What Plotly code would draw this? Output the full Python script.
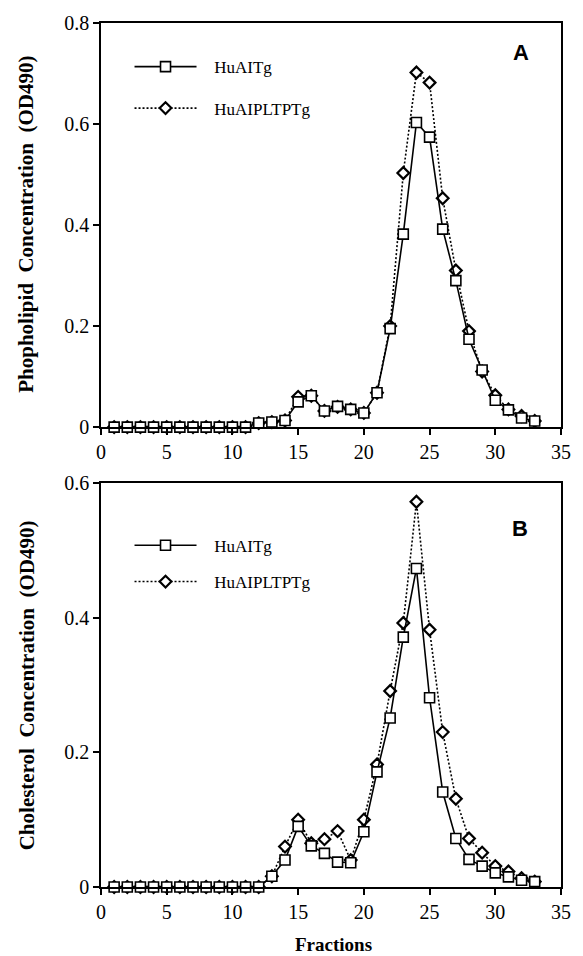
import plotly.graph_objects as go

# ---------------- data ----------------
fractions = list(range(1, 34))

# Panel A: phospholipid (OD490)
pl_huaitg = [0, 0, 0, 0, 0, 0, 0, 0, 0, 0, 0,
             0.008, 0.010, 0.013, 0.050, 0.062, 0.032, 0.041, 0.035, 0.028, 0.068,
             0.195, 0.382, 0.603, 0.574, 0.392, 0.290, 0.174, 0.113, 0.053, 0.034,
             0.018, 0.012]
pl_huaipltptg = [0, 0, 0, 0, 0, 0, 0, 0, 0, 0, 0,
                 0.008, 0.010, 0.013, 0.060, 0.062, 0.032, 0.040, 0.035, 0.028, 0.068,
                 0.200, 0.503, 0.702, 0.682, 0.453, 0.310, 0.190, 0.110, 0.063, 0.035,
                 0.022, 0.012]

# Panel B: cholesterol (OD490)
ch_huaitg = [0, 0, 0, 0, 0, 0, 0, 0, 0, 0, 0, 0,
             0.016, 0.040, 0.090, 0.061, 0.050, 0.037, 0.036, 0.082, 0.171,
             0.251, 0.371, 0.473, 0.281, 0.141, 0.072, 0.041, 0.031, 0.021, 0.015,
             0.010, 0.008]
ch_huaipltptg = [0, 0, 0, 0, 0, 0, 0, 0, 0, 0, 0, 0,
                 0.016, 0.060, 0.100, 0.065, 0.071, 0.083, 0.040, 0.100, 0.182,
                 0.291, 0.392, 0.572, 0.382, 0.230, 0.131, 0.072, 0.051, 0.031, 0.023,
                 0.013, 0.008]

series_names = ["HuAITg", "HuAIPLTPTg"]
x_ticks = [0, 5, 10, 15, 20, 25, 30, 35]
yA_ticks = [0, 0.2, 0.4, 0.6, 0.8]
yB_ticks = [0, 0.2, 0.4, 0.6]

# ---------------- styling ----------------
SERIF = "Liberation Serif, Times New Roman, serif"
NB = "\u00a0"

sq_marker = dict(symbol="square", size=10, color="white",
                 line=dict(color="black", width=1.6))
dm_marker = dict(symbol="diamond", size=9, color="white",
                 line=dict(color="black", width=2.2))
sq_line = dict(color="black", width=1.6)
dm_line = dict(color="black", width=1.6, dash="2px,2px")

fig = go.Figure()

# Panel A (diamonds first so squares sit on top)
fig.add_trace(go.Scatter(x=fractions, y=pl_huaipltptg, mode="lines+markers",
                         name=NB * 3 + series_names[1], line=dm_line, marker=dm_marker,
                         xaxis="x", yaxis="y", legend="legend2", cliponaxis=False))
fig.add_trace(go.Scatter(x=fractions, y=pl_huaitg, mode="lines+markers",
                         name=NB * 3 + series_names[0], line=sq_line, marker=sq_marker,
                         xaxis="x", yaxis="y", legend="legend", cliponaxis=False))
# Panel B
fig.add_trace(go.Scatter(x=fractions, y=ch_huaipltptg, mode="lines+markers",
                         name=NB * 3 + series_names[1], line=dm_line, marker=dm_marker,
                         xaxis="x2", yaxis="y2", legend="legend4", cliponaxis=False))
fig.add_trace(go.Scatter(x=fractions, y=ch_huaitg, mode="lines+markers",
                         name=NB * 3 + series_names[0], line=sq_line, marker=sq_marker,
                         xaxis="x2", yaxis="y2", legend="legend3", cliponaxis=False))

axis_common = dict(showline=True, linecolor="black", linewidth=1.6, mirror=True,
                   ticks="outside", ticklen=6, tickwidth=1.5, tickcolor="black",
                   showgrid=False, zeroline=False,
                   tickfont=dict(family=SERIF, size=20, color="black"))

legend_common = dict(bgcolor="rgba(0,0,0,0)", borderwidth=0, itemwidth=62,
                     xanchor="left", yanchor="middle",
                     font=dict(family=SERIF, size=17, color="black"))

fig.update_layout(
    width=583, height=956,
    margin=dict(l=101, r=13, t=21, b=69),
    paper_bgcolor="white", plot_bgcolor="white",
    showlegend=True,
    xaxis=dict(domain=[0, 1], range=[0, 35], tickvals=x_ticks, anchor="y", **axis_common),
    yaxis=dict(domain=[0.5323, 1], range=[0, 0.8], tickvals=yA_ticks, anchor="x", **axis_common),
    xaxis2=dict(domain=[0, 1], range=[0, 35], tickvals=x_ticks, anchor="y2", **axis_common),
    yaxis2=dict(domain=[0, 0.4677], range=[0, 0.6], tickvals=yB_ticks, anchor="x2", **axis_common),
    legend=dict(x=0.062, y=0.949, **legend_common),
    legend2=dict(x=0.062, y=0.901, **legend_common),
    legend3=dict(x=0.062, y=0.395, **legend_common),
    legend4=dict(x=0.062, y=0.353, **legend_common),
)

title_font = dict(family=SERIF, size=21, color="black")
annotations = [
    dict(text="<b>Phopholipid" + NB * 2 + "Concentration" + NB * 2 + "(OD490)</b>",
         xref="paper", yref="paper", x=-0.162, y=0.767, textangle=-90,
         xanchor="center", yanchor="middle", showarrow=False, font=title_font),
    dict(text="<b>Cholesterol" + NB * 2 + "Concentration" + NB * 2 + "(OD490)</b>",
         xref="paper", yref="paper", x=-0.162, y=0.234, textangle=-90,
         xanchor="center", yanchor="middle", showarrow=False, font=title_font),
    dict(text="<b>Fractions</b>", xref="paper", yref="paper", x=0.505, y=-0.0665,
         xanchor="center", yanchor="middle", showarrow=False,
         font=dict(family=SERIF, size=19, color="black")),
    dict(text="<b>A</b>", xref="paper", yref="paper", x=0.913, y=0.966,
         xanchor="center", yanchor="middle", showarrow=False,
         font=dict(family="Liberation Sans, Arial, sans-serif", size=22, color="black")),
    dict(text="<b>B</b>", xref="paper", yref="paper", x=0.910, y=0.4145,
         xanchor="center", yanchor="middle", showarrow=False,
         font=dict(family="Liberation Sans, Arial, sans-serif", size=22, color="black")),
]
fig.update_layout(annotations=annotations)

# remove the browser's default 8px body margin so the figure fills the window exactly
fig.write_html("out.html", config={"displayModeBar": False},
               post_script="document.body.style.margin='0';")
